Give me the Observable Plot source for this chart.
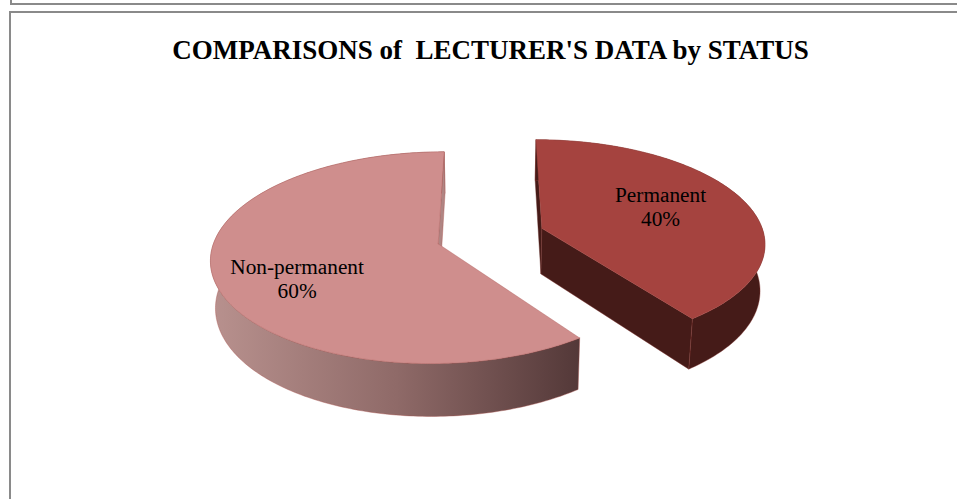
<!DOCTYPE html>
<html>
<head>
<meta charset="utf-8">
<script src="https://cdn.jsdelivr.net/npm/d3@7"></script>
<script src="https://cdn.jsdelivr.net/npm/@observablehq/plot@0.6"></script>
<style>
  html, body { margin: 0; padding: 0; background: #fff; width: 957px; height: 499px; overflow: hidden; }
  #wrap { position: relative; width: 957px; height: 499px; }
  .box { position: absolute; box-sizing: border-box; border: 2px solid #8a8a8a; }
  #chart { position: absolute; left: 0; top: 0; }
  svg { display: block; background: transparent !important; }
</style>
</head>
<body>
<div id="wrap">
  <div class="box" style="left:10px; top:-20px; width:1000px; height:25px;"></div>
  <div class="box" style="left:9px; top:11px; width:1000px; height:520px;"></div>
  <div id="chart"></div>
</div>
<script>
const chartTitle = "COMPARISONS of\u00A0 LECTURER'S DATA by STATUS";
const categories = ["Permanent", "Non-permanent"];
const shares = [40, 60];
const shareLabels = ["40%", "60%"];

// Layout of the tilted pie
const topColors = {"Permanent": "#a5433f", "Non-permanent": "#cf8e8d"};
const edgeColors = {"Permanent": "#a5433f", "Non-permanent": "#b0605d"};
const labelSpots = {"Permanent": {deg: 67.7, r: 0.607}, "Non-permanent": {deg: 241.8, r: 0.6715}};
const explode = 0.245, vx = 490, vy = 235.5, k = 0.13;
const upper = {A: 222.5, B: 102, dy: 0};
const lower = {A: 218.5, B: 107.5, dy: 46};
const rad = Math.PI / 180;

function project(p, q, plane) {
  const s = 1 / (1 - k * q);
  return {x: vx + plane.A * p * s, y: vy + plane.dy + plane.B * q * s};
}

const slices = d3.pie().sort(null).value(d => d)(shares).map((s, i) => {
  const mid = (s.startAngle + s.endAngle) / 2;
  return {
    name: categories[i],
    label: shareLabels[i],
    a0: s.startAngle,
    a1: s.endAngle,
    ox: explode * Math.sin(mid),
    oy: -explode * Math.cos(mid)
  };
});

function rim(s, a, plane) {
  return project(s.ox + Math.sin(a), s.oy - Math.cos(a), plane);
}
function arc(s, plane) {
  const n = Math.ceil((s.a1 - s.a0) / rad);
  return d3.range(n + 1).map(i => rim(s, s.a0 + (s.a1 - s.a0) * i / n, plane));
}
const apex = (s, plane) => project(s.ox, s.oy, plane);
const closed = pts => [...pts, pts[0]];

function poly(pts, fill, stroke, strokeWidth = 0.4) {
  return Plot.line(closed(pts), {x: "x", y: "y", fill, stroke, strokeWidth, curve: "linear"});
}
function straightWall(s, a) {
  return [apex(s, upper), rim(s, a, upper), rim(s, a, lower), apex(s, lower)];
}

const perm = slices[0], non = slices[1];
const wallGradient = () => {
  const g = d3.create("svg:defs");
  const lg = g.append("linearGradient").attr("id", "wallShade")
    .attr("gradientUnits", "userSpaceOnUse")
    .attr("x1", 212).attr("x2", 580).attr("y1", 0).attr("y2", 0);
  [[0, "#b8918e"], [0.5, "#8f6a68"], [1, "#533838"]].forEach(([o, c]) =>
    lg.append("stop").attr("offset", o).attr("stop-color", c));
  return g.node();
};

const labelRows = slices.map(s => {
  const spot = labelSpots[s.name];
  const a = spot.deg * rad;
  const pt = project(s.ox + spot.r * Math.sin(a), s.oy - spot.r * Math.cos(a), upper);
  return {x: pt.x, y: pt.y, text: s.name + "\n" + s.label};
});

const font = "'Liberation Serif', 'Times New Roman', serif";
const plot = Plot.plot({
  width: 957,
  height: 499,
  margin: 0,
  style: {background: "transparent"},
  x: {domain: [0, 957], range: [0, 957], axis: null},
  y: {domain: [0, 499], range: [0, 499], axis: null},
  marks: [
    wallGradient,
    // Non-permanent slice
    poly([...arc(non, upper), ...arc(non, lower).reverse()], "url(#wallShade)", "#a9504d"),
    poly(straightWall(non, non.a1), "#b08583", "#a9504d"),
    poly([apex(non, upper), ...arc(non, upper)], topColors["Non-permanent"], edgeColors["Non-permanent"]),
    // Permanent slice
    poly(straightWall(perm, perm.a0), "#451b18", "#5e2522"),
    poly([...arc(perm, upper), ...arc(perm, lower).reverse()], "#451b18", "#8a3a36"),
    poly(straightWall(perm, perm.a1), "#451b18", "#8a3a36"),
    poly([apex(perm, upper), ...arc(perm, upper)], topColors["Permanent"], edgeColors["Permanent"]),
    // Text
    Plot.text(labelRows, {
      x: "x", y: "y", text: "text", fontFamily: font, fontSize: 21.3, lineHeight: 1.13,
      fill: "#000", textAnchor: "middle", lineAnchor: "middle"
    }),
    Plot.text([chartTitle], {
      x: () => 490, y: () => 50, text: d => d, fontFamily: font, fontSize: 27,
      fontWeight: "bold", fill: "#000", textAnchor: "middle", lineAnchor: "middle"
    })
  ]
});
document.getElementById("chart").append(plot);
</script>
</body>
</html>
